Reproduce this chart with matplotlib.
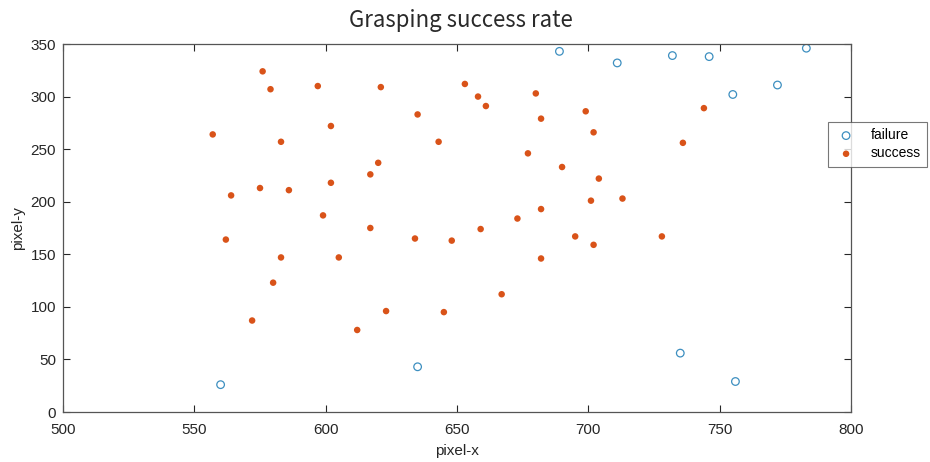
import matplotlib.pyplot as plt

# failure points (open circles)
fail_x = [689, 711, 732, 746, 783, 755, 772, 560, 635, 735, 756]
fail_y = [343, 332, 339, 338, 346, 302, 311, 26, 43, 56, 29]

# success points (filled dots)
succ_x = [557, 576, 579, 597, 621, 635, 602, 583, 643, 620, 617, 602, 575, 586,
          564, 599, 617, 653, 562, 583, 605, 580, 572, 612, 623, 645, 634, 648,
          658, 661, 680, 682, 699, 702, 744, 736, 677, 690, 704, 701, 713, 682,
          673, 659, 695, 728, 702, 682, 667]
succ_y = [264, 324, 307, 310, 309, 283, 272, 257, 257, 237, 226, 218, 213, 211,
          206, 187, 175, 312, 164, 147, 147, 123, 87, 78, 96, 95, 165, 163,
          300, 291, 303, 279, 286, 266, 289, 256, 246, 233, 222, 201, 203, 193,
          184, 174, 167, 167, 159, 146, 112]

plt.rcParams['font.family'] = ['Liberation Sans', 'DejaVu Sans']

fig = plt.figure(figsize=(9.3, 4.62), dpi=100)
ax = fig.add_axes([63/930, 1 - 412/462, (851-63)/930, (412-44)/462])

ax.scatter(fail_x, fail_y, s=30, facecolors='none', edgecolors='#3d8fc0',
           linewidths=0.9, label='failure')
ax.scatter(succ_x, succ_y, s=22, color='#D95319', edgecolors='none', label='success')

ax.set_xlim(500, 800)
ax.set_ylim(0, 350)
ax.set_xticks(range(500, 801, 50))
ax.set_yticks(range(0, 351, 50))
ax.tick_params(direction='in', top=True, right=True, length=5, width=0.8,
               colors='#262626', labelsize=11, labelcolor='#262626')
ax.tick_params(axis='x', pad=8)
ax.tick_params(axis='y', pad=5)
for s in ax.spines.values():
    s.set_color('#555555')
    s.set_linewidth(0.9)

ax.set_xlabel('pixel-x', fontsize=11, color='#262626', labelpad=5)
ax.set_ylabel('pixel-y', fontsize=11, color='#262626', labelpad=4)
fig.text(461/930, 1 - 20/462, 'Grasping success rate', ha='center', va='center',
         fontsize=16, color='#2a2a2a', family=['Noto Sans CJK SC', 'DejaVu Sans'])

leg = fig.legend(loc='upper left', bbox_to_anchor=(828/930, 1 - 122/462),
                 fontsize=10, frameon=True, fancybox=False, borderpad=0.45,
                 borderaxespad=0, handletextpad=0.9, labelspacing=0.3,
                 handlelength=1.7)
leg.get_frame().set_edgecolor('#555555')
leg.get_frame().set_linewidth(0.8)

fig.savefig('out.png', dpi=100)
